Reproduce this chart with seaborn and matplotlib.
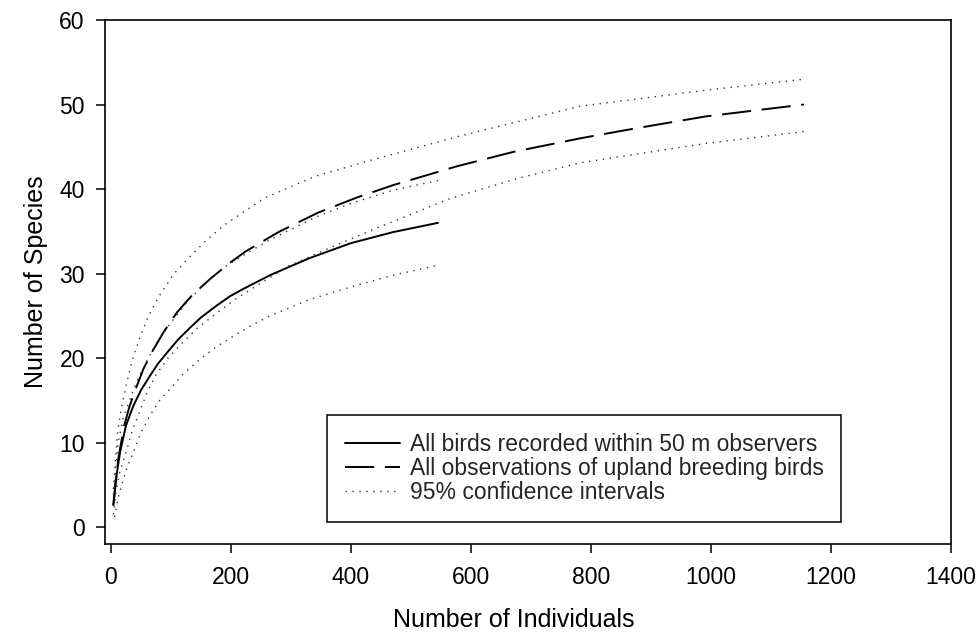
import matplotlib
matplotlib.use("Agg")
import matplotlib.pyplot as plt
import seaborn as sns

# rarefaction curves
within50_x = [4, 8, 15, 25, 37, 50, 65, 78, 93, 112, 132, 150, 176, 198, 221, 265, 330, 400, 470, 545]
within50_y = [2.6, 5.5, 8.8, 12.0, 14.3, 16.2, 17.9, 19.3, 20.6, 22.2, 23.6, 24.8, 26.2, 27.3, 28.2,
              29.8, 31.8, 33.6, 34.9, 36.0]

within50_hi_x = [4, 12, 20, 30, 42, 55, 75, 100, 130, 160, 190, 224, 265, 345, 400, 472, 545]
within50_hi_y = [3.8, 10.0, 12.8, 14.8, 17.1, 19.0, 21.7, 24.2, 26.9, 29.0, 30.8, 32.3, 34.0, 36.8,
                 38.3, 39.9, 41.0]

within50_lo_x = [6, 12, 20, 28, 37, 50, 65, 80, 98, 120, 149, 175, 204, 235, 265, 330, 404, 470, 546]
within50_lo_y = [1.2, 3.5, 5.5, 7.3, 8.8, 11.2, 13.2, 14.9, 16.3, 18.1, 19.9, 21.3, 22.6, 23.9, 25.0,
                 26.9, 28.5, 29.8, 31.0]

upland_x = [4, 12, 22, 31, 41, 54, 69, 88, 110, 136, 166, 195, 224, 279, 345, 410, 472, 577, 671,
            782, 876, 992, 1155]
upland_y = [2.6, 8.0, 12.0, 14.3, 16.3, 18.7, 20.8, 23.1, 25.4, 27.5, 29.4, 31.1, 32.6, 34.9, 37.2,
            39.0, 40.5, 42.7, 44.4, 46.0, 47.2, 48.6, 50.0]

upland_hi_x = [4, 11, 18, 25, 35, 47, 62, 80, 104, 130, 160, 190, 255, 340, 428, 583, 782, 992, 1155]
upland_hi_y = [4.5, 11.2, 14.3, 16.7, 19.6, 22.2, 24.9, 27.3, 29.9, 31.9, 34.0, 35.8, 38.9, 41.5,
               43.3, 46.3, 49.8, 51.7, 53.0]

upland_lo_x = [4, 8, 15, 25, 35, 47, 60, 74, 95, 119, 145, 174, 210, 246, 296, 370, 440, 566, 680,
               782, 992, 1155]
upland_lo_y = [1.5, 4.1, 6.6, 8.8, 11.3, 13.5, 15.9, 17.9, 20.0, 21.8, 23.6, 25.2, 27.1, 28.7, 30.9,
               33.2, 35.3, 38.9, 41.3, 43.1, 45.4, 46.8]

labels = ["All birds recorded within 50 m observers",
          "All observations of upland breeding birds",
          "95% confidence intervals"]

sns.set_theme(style="ticks")
plt.rcParams["font.family"] = ["Liberation Sans", "DejaVu Sans"]

fig = plt.figure(figsize=(9.8, 6.33), dpi=100)
ax = fig.add_axes([0.1071, 0.1406, 0.8633, 0.8278])

dotted = (0, (1, 4))
dashed = (0, (15, 5.5))

sns.lineplot(x=within50_x, y=within50_y, ax=ax, color="black", lw=1.4,
             linestyle="-", label=labels[0])
sns.lineplot(x=upland_x, y=upland_y, ax=ax, color="black", lw=1.4,
             linestyle=dashed, label=labels[1])
sns.lineplot(x=within50_hi_x, y=within50_hi_y, ax=ax, color="#333333", lw=1,
             linestyle=dotted, label=labels[2])
for xs, ys in [(within50_lo_x, within50_lo_y), (upland_hi_x, upland_hi_y),
               (upland_lo_x, upland_lo_y)]:
    sns.lineplot(x=xs, y=ys, ax=ax, color="#333333", lw=1, linestyle=dotted,
                 label="_nolegend_")

ax.set_xlim(-10, 1400)
ax.set_ylim(-2, 60)
ax.set_xticks(range(0, 1401, 200))
ax.set_yticks(range(0, 61, 10))

for s in ax.spines.values():
    s.set_linewidth(1.2)
    s.set_color("black")
ax.tick_params(axis="both", direction="out", length=6.5, width=1.1,
               color="black", labelsize=16.5, labelcolor="black")
ax.tick_params(axis="x", pad=9)
ax.tick_params(axis="y", pad=8)

ax.set_xlabel("Number of Individuals", fontsize=18, color="black")
ax.set_ylabel("Number of Species", fontsize=18, color="black", labelpad=8)
ax.xaxis.set_label_coords(0.483, -0.122)

leg = ax.legend(loc="lower left", bbox_to_anchor=(0.263, 0.042), fontsize=16.5,
                frameon=True, fancybox=False, shadow=False, framealpha=1,
                edgecolor="black", handlelength=2.4, handletextpad=0.4,
                labelspacing=0.05, borderpad=0.78, borderaxespad=0)
leg.get_frame().set_linewidth(1.1)

fig.savefig("out.png", dpi=100, facecolor="white")
